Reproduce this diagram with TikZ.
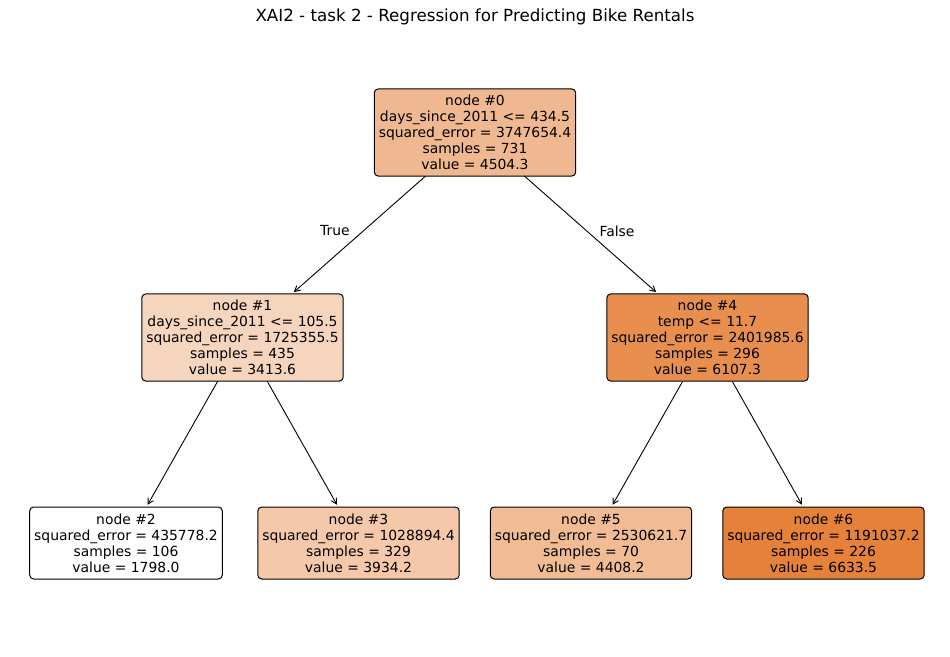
\documentclass[tikz,border=0pt]{standalone}
\usepackage{fontspec}
\setmainfont{DejaVu Sans}
\usetikzlibrary{arrows.meta,backgrounds}
\definecolor{treeorange}{HTML}{E58139}
\begin{document}
\begin{tikzpicture}[x=1pt,y=-1pt,
  treebox/.style={draw=black, line width=1pt, rounded corners=4pt, align=center,
    inner xsep=4.5pt, inner ysep=6pt, font=\fontsize{13.9}{16.1}\selectfont},
  inner/.style={treebox, minimum height=87pt},
  leaf/.style={treebox, minimum height=72pt},
  edge/.style={line width=0.9pt, -{Straight Barb[length=5.5pt,width=6pt]}, shorten >=2pt},
  elabel/.style={font=\fontsize{13.9}{16.1}\selectfont, inner sep=0pt}
]
\useasboundingbox (0,0) rectangle (950,656);
\node[font=\fontsize{16.7}{20}\selectfont] (title) at (475,17) {XAI2 - task 2 - Regression for Predicting Bike Rentals};

\node[inner, fill=treeorange!56!white] (n0) at (475,132.5) {node \#0\\days\_since\_2011 <= 434.5\\squared\_error = 3747654.4\\samples = 731\\value = 4504.3};
\node[inner, fill=treeorange!33!white] (n1) at (242.5,337.5) {node \#1\\days\_since\_2011 <= 105.5\\squared\_error = 1725355.5\\samples = 435\\value = 3413.6};
\node[inner, fill=treeorange!89!white] (n4) at (707.5,337.5) {node \#4\\temp <= 11.7\\squared\_error = 2401985.6\\samples = 296\\value = 6107.3};
\node[leaf, fill=white] (n2) at (126,543) {node \#2\\squared\_error = 435778.2\\samples = 106\\value = 1798.0};
\node[leaf, fill=treeorange!44!white] (n3) at (358.5,543) {node \#3\\squared\_error = 1028894.4\\samples = 329\\value = 3934.2};
\node[leaf, fill=treeorange!54!white] (n5) at (591,543) {node \#5\\squared\_error = 2530621.7\\samples = 70\\value = 4408.2};
\node[leaf, fill=treeorange] (n6) at (823.5,543) {node \#6\\squared\_error = 1191037.2\\samples = 226\\value = 6633.5};

\node[elabel] (ltrue) at (335,231) {True};
\node[elabel] (lfalse) at (617,231) {False};

\begin{scope}[on background layer]
\draw[edge] (n0.center) -- (n1);
\draw[edge] (n0.center) -- (n4);
\draw[edge] (n1.center) -- (n2);
\draw[edge] (n1.center) -- (n3);
\draw[edge] (n4.center) -- (n5);
\draw[edge] (n4.center) -- (n6);
\end{scope}
\end{tikzpicture}
\end{document}
